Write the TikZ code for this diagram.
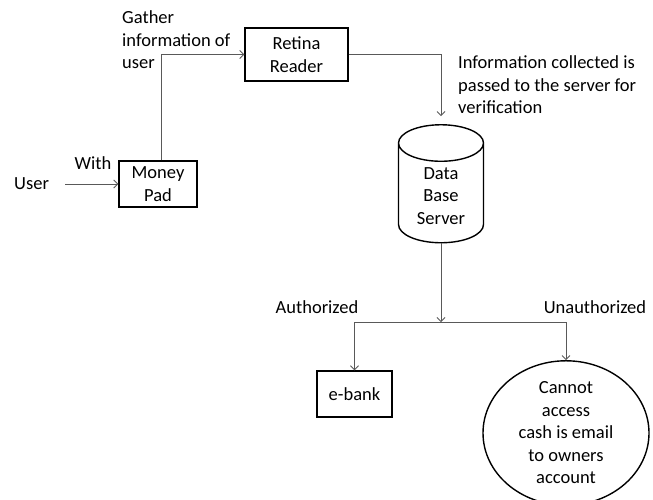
\documentclass[tikz,border=0pt]{standalone}
\usepackage{fontspec}
\setmainfont{Carlito}
\usetikzlibrary{arrows.meta,shapes.geometric}

\tikzset{
  box/.style={draw=black, line width=1.4pt, align=center, inner sep=2pt},
  conn/.style={draw=black!65, line width=0.8pt, ->},
  lbl/.style={align=left, inner sep=0pt},
}

\begin{document}
\begin{tikzpicture}[x=1pt, y=-1pt, >={Straight Barb[length=4pt,width=8pt]},
  every node/.style={font=\fontsize{18.5}{22.5}\selectfont}]

\useasboundingbox (0,0) rectangle (653,499);

% Boxes and stores
\node[box, minimum width=78pt, minimum height=46pt] (pad) at (158,184) {Money\\Pad};
\node[box, minimum width=103pt, minimum height=53pt] (retina) at (296.5,54.5) {Retina\\Reader};
\node[box, cylinder, shape border rotate=90, aspect=0.7, minimum width=85pt,
  minimum height=118pt] (db) at (441,196) {Data\\Base\\Server};
\node[box, minimum width=75pt, minimum height=46pt] (ebank) at (354.5,394) {e-bank};
\node[box, ellipse, minimum width=166pt, minimum height=132pt, inner sep=0pt] (cash)
  at (566,433) {Cannot\\access\\cash is email\\to owners\\account};

% Labels
\node[lbl, anchor=west] (user) at (14,184) {User};
\node[lbl] (with) at (93,163) {With};
\node[lbl, anchor=west] (gather) at (122,40) {Gather\\information of\\user};
\node[lbl, anchor=west] (info) at (458,85) {Information collected is\\passed to the server for\\verification};
\node[lbl] (auth) at (317,307) {Authorized};
\node[lbl] (unauth) at (595,307) {Unauthorized};

% Connectors
\coordinate (split) at (441,322);
\draw[conn, shorten <=16pt] (user) -- (pad);
\draw[conn] ([xshift=3pt]pad.north) |- (retina.west);
\draw[conn, shorten >=8pt] (retina.east) -| (db.north);
\draw[conn] (db.south) -- (split);
\draw[conn] (split) -| (ebank.north);
\draw[conn] (split) -| (cash.north);

\end{tikzpicture}
\end{document}
